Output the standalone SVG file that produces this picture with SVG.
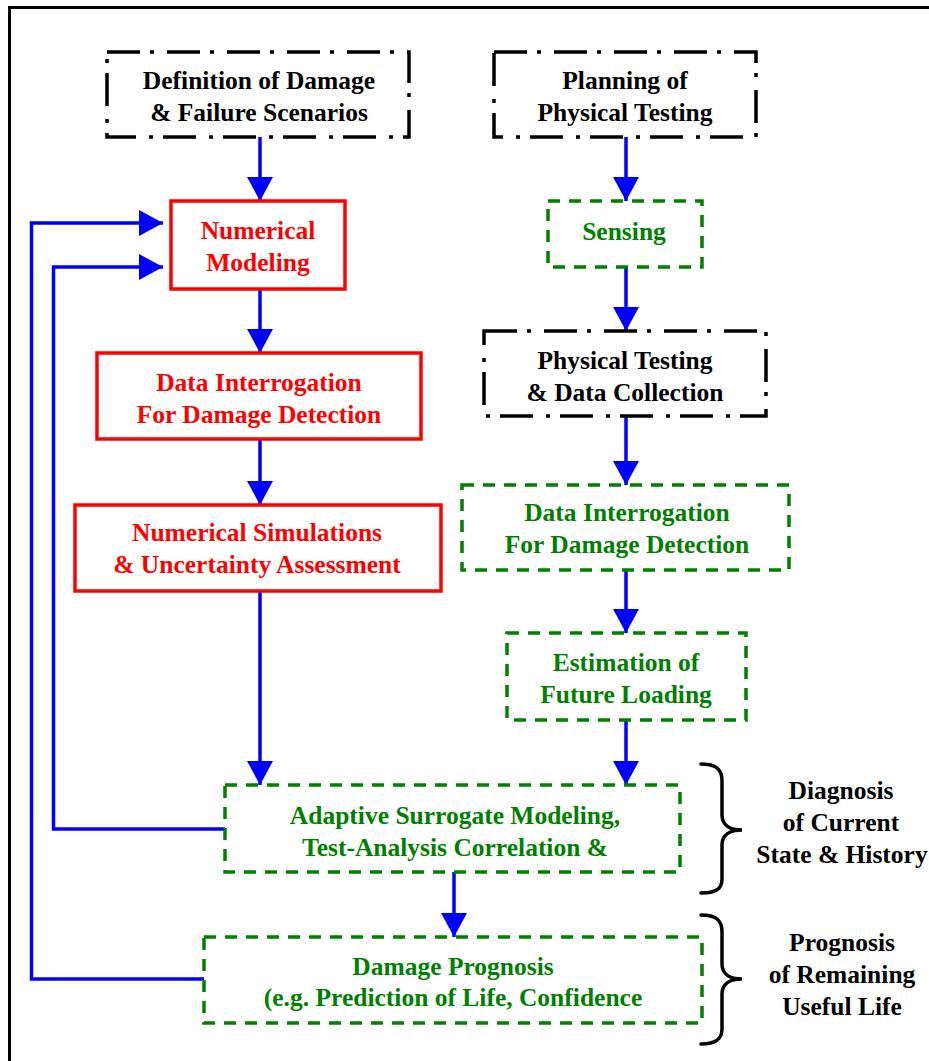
<svg xmlns="http://www.w3.org/2000/svg" width="929" height="1061" viewBox="0 0 929 1061">
<style>
text{font-family:"Liberation Serif","Times New Roman",serif;font-weight:bold;font-size:25.5px;text-anchor:middle}
.k{fill:#000}.r{fill:#ff0000}.g{fill:#008000}
.dd{fill:none;stroke:#000;stroke-width:3.5;stroke-dasharray:33 10 4 13}
.rs{fill:none;stroke:#ff0000;stroke-width:3.5}
.gd{fill:none;stroke:#008000;stroke-width:3.5;stroke-dasharray:12 9}
.c{fill:none;stroke:#0000ff;stroke-width:3.5}
.br{fill:none;stroke:#000;stroke-width:3.5;stroke-linecap:round}
</style>
<defs>
<marker id="ah" viewBox="0 0 24 26" refX="24" refY="13" markerWidth="24" markerHeight="26" markerUnits="userSpaceOnUse" orient="auto">
<path d="M0,0 L24,13 L0,26 Z" fill="#0000ff"/>
</marker>
</defs>
<rect x="9.5" y="7.5" width="940" height="1070" fill="#fff" stroke="#000" stroke-width="3"/>
<g id="connectors">
<line class="c" x1="260" y1="137" x2="260" y2="201" marker-end="url(#ah)"/>
<line class="c" x1="260" y1="289" x2="260" y2="353" marker-end="url(#ah)"/>
<line class="c" x1="260" y1="439" x2="260" y2="505" marker-end="url(#ah)"/>
<line class="c" x1="260" y1="591" x2="260" y2="785" marker-end="url(#ah)"/>
<line class="c" x1="626" y1="137" x2="626" y2="201" marker-end="url(#ah)"/>
<line class="c" x1="626" y1="267" x2="626" y2="331" marker-end="url(#ah)"/>
<line class="c" x1="626" y1="416" x2="626" y2="485" marker-end="url(#ah)"/>
<line class="c" x1="626" y1="570" x2="626" y2="633" marker-end="url(#ah)"/>
<line class="c" x1="626" y1="720" x2="626" y2="785" marker-end="url(#ah)"/>
<line class="c" x1="454" y1="872" x2="454" y2="937" marker-end="url(#ah)"/>
<path class="c" d="M225,829 L53.5,829 L53.5,267 L163,267" marker-end="url(#ah)"/>
<path class="c" d="M204,979 L31.5,979 L31.5,223 L163,223" marker-end="url(#ah)"/>
</g>
<g id="n-definition">
<rect class="dd" x="107" y="52" width="302" height="85"/>
<text class="k" x="259" y="89">Definition of Damage</text>
<text class="k" x="259" y="121">&amp; Failure Scenarios</text>
</g>
<g id="n-planning">
<rect class="dd" x="494" y="52" width="262" height="85"/>
<text class="k" x="625" y="89">Planning of</text>
<text class="k" x="625" y="121">Physical Testing</text>
</g>
<g id="n-numerical-modeling">
<rect class="rs" x="171" y="201" width="174" height="88"/>
<text class="r" x="258" y="239">Numerical</text>
<text class="r" x="258" y="271">Modeling</text>
</g>
<g id="n-sensing">
<rect class="gd" x="548" y="201" width="154" height="66"/>
<text class="g" x="624" y="240">Sensing</text>
</g>
<g id="n-data-red">
<rect class="rs" x="97" y="353" width="324" height="86"/>
<text class="r" x="259" y="391">Data Interrogation</text>
<text class="r" x="259" y="423">For Damage Detection</text>
</g>
<g id="n-physical-testing">
<rect class="dd" x="484" y="331" width="282" height="85"/>
<text class="k" x="625" y="369">Physical Testing</text>
<text class="k" x="625" y="401">&amp; Data Collection</text>
</g>
<g id="n-simulations">
<rect class="rs" x="75" y="505" width="366" height="86"/>
<text class="r" x="257" y="541">Numerical Simulations</text>
<text class="r" x="257" y="573">&amp; Uncertainty Assessment</text>
</g>
<g id="n-data-green">
<rect class="gd" x="462" y="485" width="327" height="85"/>
<text class="g" x="627" y="521">Data Interrogation</text>
<text class="g" x="627" y="553">For Damage Detection</text>
</g>
<g id="n-estimation">
<rect class="gd" x="507" y="633" width="239" height="87"/>
<text class="g" x="626" y="671">Estimation of</text>
<text class="g" x="626" y="703">Future Loading</text>
</g>
<g id="n-adaptive">
<rect class="gd" x="225" y="785" width="455" height="87"/>
<text class="g" x="455" y="824">Adaptive Surrogate Modeling,</text>
<text class="g" x="455" y="856">Test-Analysis Correlation &amp;</text>
</g>
<g id="n-prognosis">
<rect class="gd" x="204" y="937" width="498" height="86"/>
<text class="g" x="453" y="975">Damage Prognosis</text>
<text class="g" x="453" y="1006">(e.g. Prediction of Life, Confidence</text>
</g>
<g id="n-diagnosis-label">
<path class="br" d="M701,764 C716,764 722,769 722,781 L722,815 C722,825 730,830 742,830 C730,830 722,835 722,845 L722,879 C722,889 716,893 701,893"/>
<text class="k" x="841" y="799">Diagnosis</text>
<text class="k" x="841" y="831">of Current</text>
<text class="k" x="842" y="863">State &amp; History</text>
</g>
<g id="n-prognosis-label">
<path class="br" d="M701,915 C716,915 722,920 722,932 L722,964 C722,974 730,979 742,979 C730,979 722,984 722,994 L722,1029 C722,1039 716,1044 701,1044"/>
<text class="k" x="842" y="951">Prognosis</text>
<text class="k" x="842" y="983">of Remaining</text>
<text class="k" x="842" y="1015">Useful Life</text>
</g>
</svg>
